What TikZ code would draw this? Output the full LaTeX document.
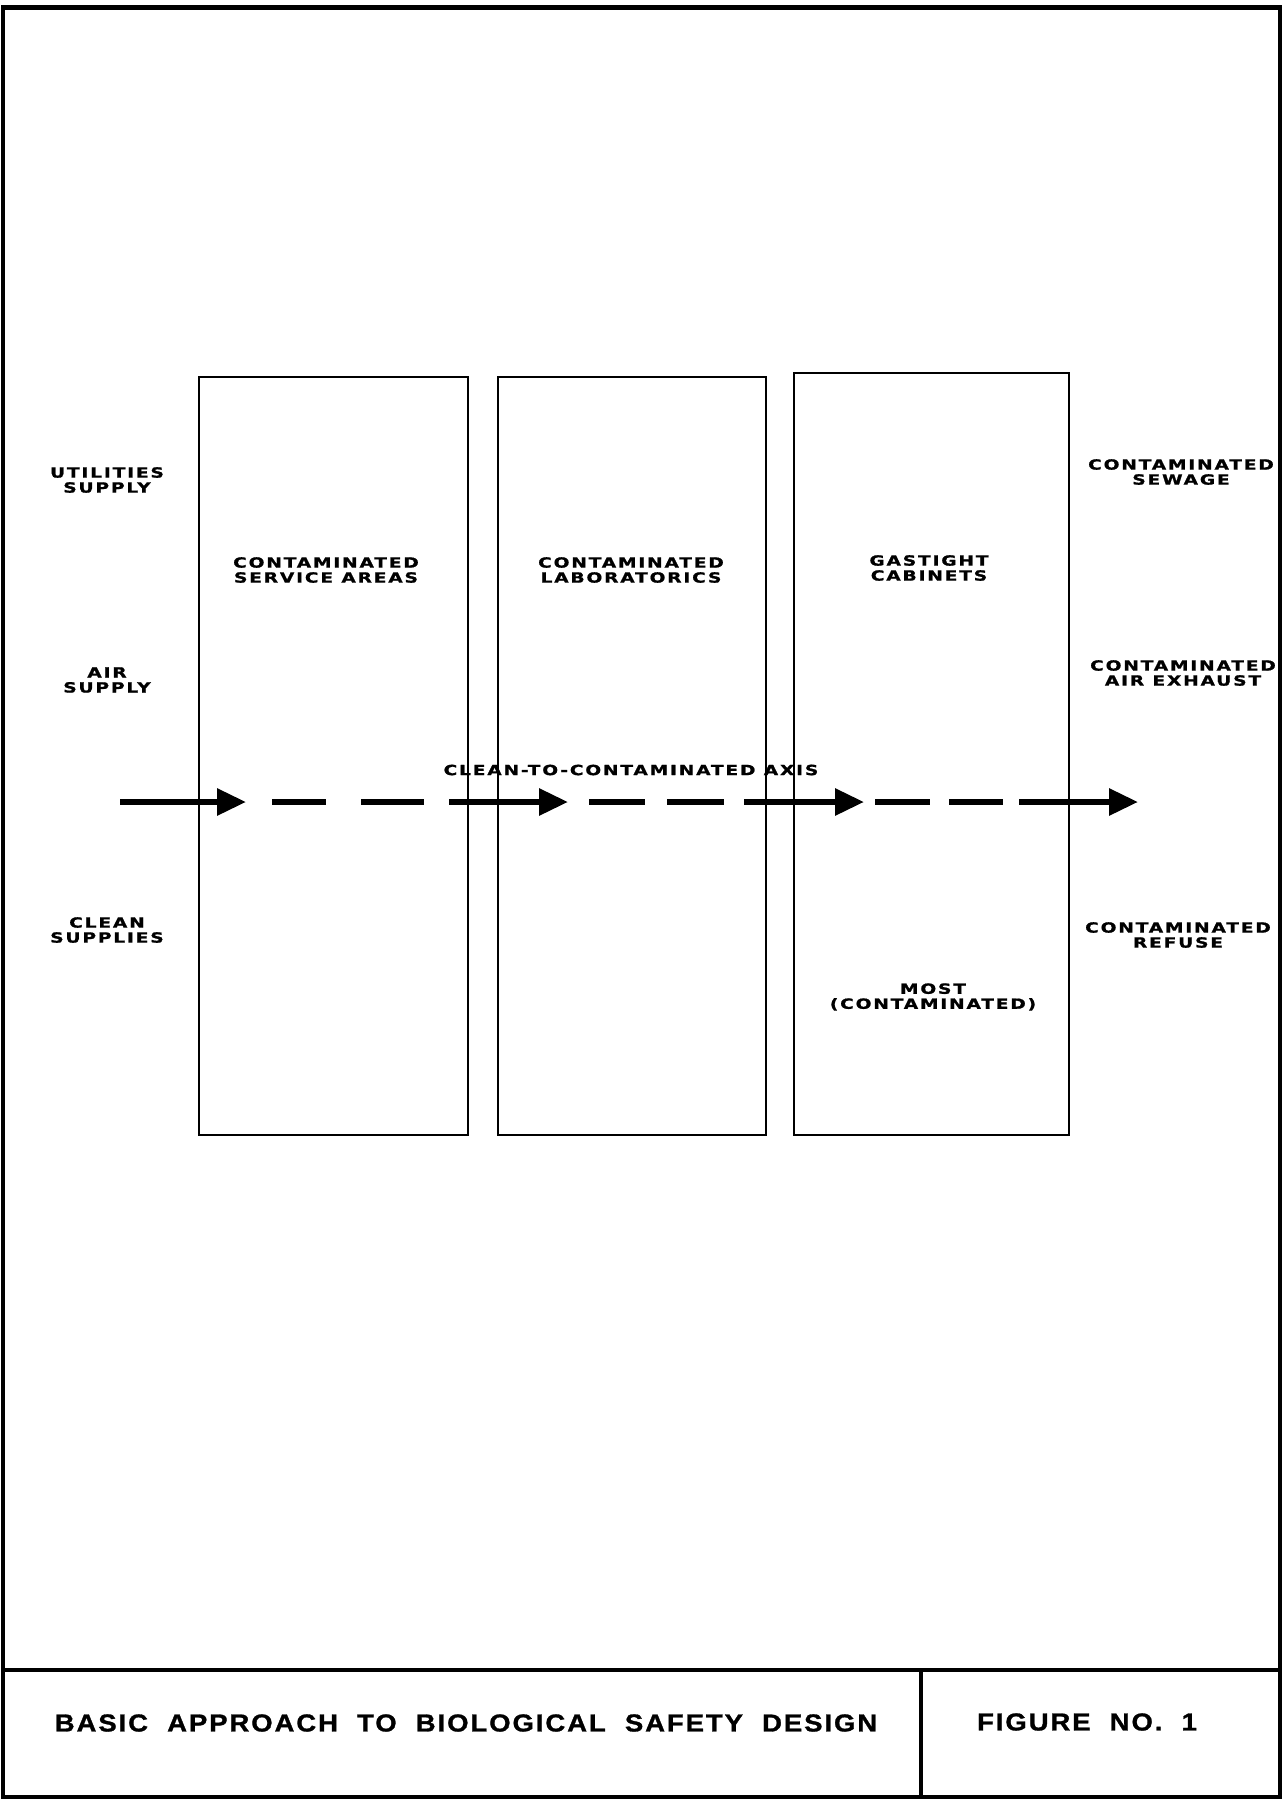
\documentclass[tikz,border=0pt]{standalone}
\usepackage{fontspec}
\usetikzlibrary{arrows.meta}
\newfontfamily\lblfont[LetterSpace=13,FakeStretch=1.33,BoldFeatures={FakeBold=1.2}]{DejaVu Sans}
\newfontfamily\ttlfont[LetterSpace=8,WordSpace=2,FakeStretch=1.12,BoldFeatures={FakeBold=1.2}]{Liberation Sans}
\tikzset{
  frameline/.style={line width=3.5pt},
  roombox/.style={draw, line width=2.5pt, inner sep=0pt},
  lbl/.style={align=center, inner sep=0pt, font=\lblfont\bfseries\fontsize{14}{15}\selectfont},
  ttl/.style={inner sep=0pt, font=\ttlfont\bfseries\fontsize{24.5}{28}\selectfont},
  axisarrow/.style={line width=6pt, -{Triangle[length=29pt,width=26pt]}},
  axisdash/.style={line width=6pt},
}
\begin{document}
\begin{tikzpicture}[x=1pt,y=-1pt]
\useasboundingbox (0,0) rectangle (1284,1799);
% outer frame and title block
\draw[frameline] (3,1797) -- (3,7) -- (1280,7) -- (1280,1797) -- cycle;
\draw[line width=5pt] (3,7) -- (1280,7);
\draw[frameline] (3,1670) -- (1280,1670);
\draw[frameline] (921,1670) -- (921,1797);
\node[ttl] (title) at (466,1723) {BASIC APPROACH TO BIOLOGICAL SAFETY DESIGN};
\node[ttl] (figno) at (1087,1722) {FIGURE NO. 1};

% left labels
\node[lbl] (util) at (107,480) {UTILITIES\\SUPPLY};
\node[lbl] (air) at (107,680) {AIR\\SUPPLY};
\node[lbl] (clean) at (107,930) {CLEAN\\SUPPLIES};

% right labels
\node[lbl] (sewage) at (1181,472) {CONTAMINATED\\SEWAGE};
\node[lbl] (exhaust) at (1183,673) {CONTAMINATED\\AIR EXHAUST};
\node[lbl] (refuse) at (1178,935) {CONTAMINATED\\REFUSE};

% box labels
\node[lbl] (l1) at (326,570) {CONTAMINATED\\SERVICE AREAS};
\node[lbl] (l2) at (631,570) {CONTAMINATED\\LABORATORICS};
\node[lbl] (l3) at (929,568) {GASTIGHT\\CABINETS};
\node[lbl] (most) at (933,997) {MOST\\(CONTAMINATED)};
\node[lbl] (axislbl) at (631,770) {CLEAN-TO-CONTAMINATED AXIS};

% boxes
\node[roombox, minimum width=269pt, minimum height=758pt] (b1) at (333.5,756) {};
\node[roombox, minimum width=268pt, minimum height=758pt] (b2) at (632,756) {};
\node[roombox, minimum width=275pt, minimum height=762pt] (b3) at (931.5,754) {};

% clean-to-contaminated axis
\coordinate (a1s) at (120,802);  \coordinate (a1e) at (246,802);
\coordinate (d1s) at (272,802);  \coordinate (d1e) at (326,802);
\coordinate (d2s) at (361,802);  \coordinate (d2e) at (424,802);
\coordinate (a2s) at (449,802);  \coordinate (a2e) at (568,802);
\coordinate (d3s) at (589,802);  \coordinate (d3e) at (645,802);
\coordinate (d4s) at (667,802);  \coordinate (d4e) at (724,802);
\coordinate (a3s) at (744,802);  \coordinate (a3e) at (864,802);
\coordinate (d5s) at (875,802);  \coordinate (d5e) at (930,802);
\coordinate (d6s) at (949,802);  \coordinate (d6e) at (1003,802);
\coordinate (a4s) at (1019,802); \coordinate (a4e) at (1138,802);
\draw[axisarrow] (a1s) -- (a1e);
\draw[axisdash] (d1s) -- (d1e);
\draw[axisdash] (d2s) -- (d2e);
\draw[axisarrow] (a2s) -- (a2e);
\draw[axisdash] (d3s) -- (d3e);
\draw[axisdash] (d4s) -- (d4e);
\draw[axisarrow] (a3s) -- (a3e);
\draw[axisdash] (d5s) -- (d5e);
\draw[axisdash] (d6s) -- (d6e);
\draw[axisarrow] (a4s) -- (a4e);
\end{tikzpicture}
\end{document}
